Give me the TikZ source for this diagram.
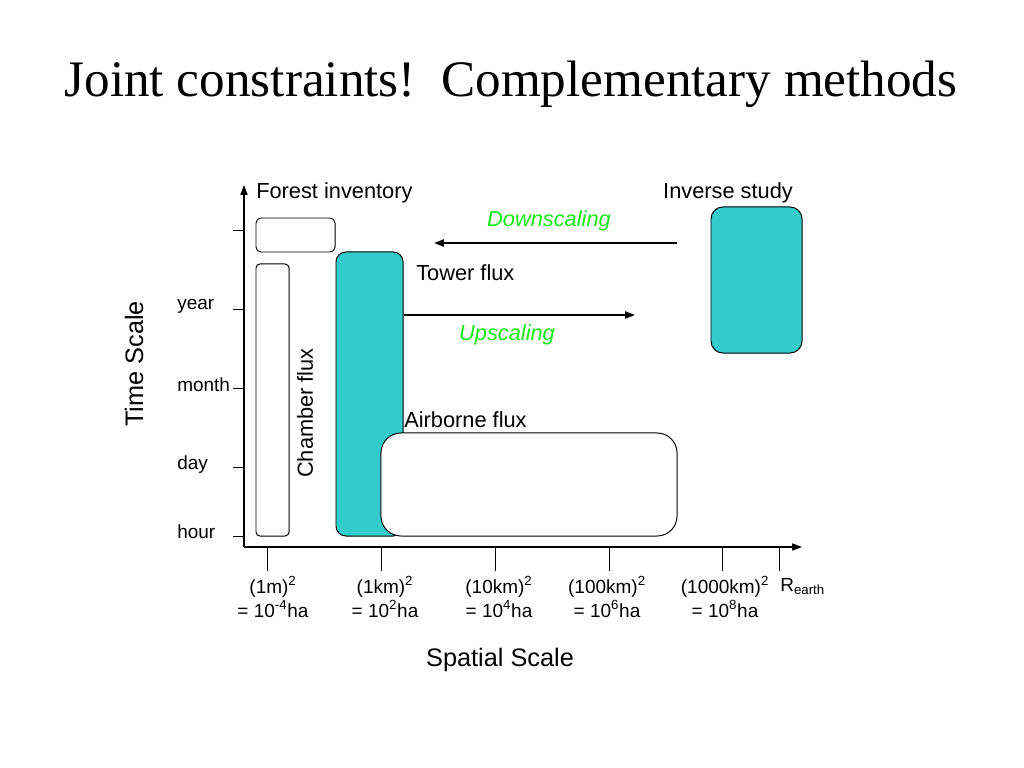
\documentclass[tikz,border=0pt]{standalone}
\usepackage{fontspec}
\setmainfont{Liberation Sans}
\newfontfamily\titlefont{Liberation Serif}
\usetikzlibrary{arrows.meta,positioning}
\definecolor{teal}{RGB}{51,204,204}
\definecolor{scalegreen}{RGB}{20,235,20}
\tikzset{
  box/.style={draw,line width=0.7pt,inner sep=0pt,fill=white},
  flow/.style={-{Triangle[length=7pt,width=5pt]},line width=1.3pt},
  lbl/.style={font=\fontsize{15.5}{18}\selectfont,inner sep=0pt},
  ticklbl/.style={font=\fontsize{13.5}{17}\selectfont,inner sep=0pt,align=center}
}
\begin{document}
\begin{tikzpicture}[x=0.025cm,y=-0.025cm]
  \useasboundingbox[fill=white] (0,0) rectangle (1024,768);
  \node[font=\titlefont\fontsize{36.4}{40}\selectfont] (title) at (511,84) {Joint constraints!\ \ Complementary methods};
  % axes
  \coordinate (o) at (244,547); \coordinate (ytop) at (244,185); \coordinate (xend) at (802,547);
  \draw[-{Triangle[length=7pt,width=5pt]},line width=0.9pt] (o) -- (ytop);
  \draw[-{Triangle[length=7pt,width=5pt]},line width=0.9pt] (o) -- (xend);
  \foreach \y in {230,309,388,467,536} \draw[line width=0.7pt] (233,\y) -- (244,\y);
  \foreach \x in {267,381,495,609,722,779} \draw[line width=0.7pt] (\x,547) -- (\x,571);
  \node[ticklbl,anchor=west] (year) at (177,306) {year};
  \node[ticklbl,anchor=west] (month) at (177,385) {month};
  \node[ticklbl,anchor=west] (day) at (177,465) {day};
  \node[ticklbl,anchor=west] (hour) at (177,532) {hour};
  \node[ticklbl] (s1) at (273,597) {(1m)\textsuperscript{2}\\= 10\textsuperscript{-4}ha};
  \node[ticklbl] (s2) at (385,597) {(1km)\textsuperscript{2}\\= 10\textsuperscript{2}ha};
  \node[ticklbl] (s3) at (499,597) {(10km)\textsuperscript{2}\\= 10\textsuperscript{4}ha};
  \node[ticklbl] (s4) at (607,597) {(100km)\textsuperscript{2}\\= 10\textsuperscript{6}ha};
  \node[ticklbl] (s5) at (725,597) {(1000km)\textsuperscript{2}\\= 10\textsuperscript{8}ha};
  \node[ticklbl,anchor=west] (rearth) at (780,587) {R\textsubscript{earth}};
  \node[font=\fontsize{18}{20}\selectfont] (xlab) at (500,660) {Spatial Scale};
  \node[font=\fontsize{18}{20}\selectfont,rotate=90] (ylab) at (134,364) {Time Scale};
  % methods
  \node[box,rounded corners=0.125cm,minimum width=1.975cm,minimum height=0.85cm] (forest) at (295.5,235) {};
  \node[box,rounded corners=0.1cm,minimum width=0.825cm,minimum height=6.8cm] (chamber) at (272.5,400) {};
  \node[box,fill=teal,rounded corners=0.25cm,minimum width=1.675cm,minimum height=7.1cm] (tower) at (369.5,394) {};
  \node[box,rounded corners=0.5cm,minimum width=7.4cm,minimum height=2.575cm] (airborne) at (529,484.5) {};
  \node[box,fill=teal,rounded corners=0.3cm,minimum width=2.275cm,minimum height=3.65cm] (inverse) at (756.5,280) {};
  \node[lbl,anchor=west] (forestlbl) at (256,193) {Forest inventory};
  \node[lbl] (inverselbl) at (728,193) {Inverse study};
  \node[lbl,anchor=west] (towerlbl) at (416,273) {Tower flux};
  \node[lbl,anchor=west] (airbornelbl) at (404,420) {Airborne flux};
  \node[lbl,rotate=90] (chamberlbl) at (305,413) {Chamber flux};
  % scaling arrows
  \coordinate (dsa) at (677,243); \coordinate (dsb) at (434,243); \coordinate (up) at (635,315);
  \draw[flow] (dsa) -- (dsb); \draw[flow] (tower.east |- up) -- (up);
  \node[lbl,font=\fontsize{15.5}{18}\selectfont\itshape,text=scalegreen] (downlbl) at (549,221) {Downscaling};
  \node[lbl,font=\fontsize{15.5}{18}\selectfont\itshape,text=scalegreen] (uplbl) at (507,335) {Upscaling};
\end{tikzpicture}
\end{document}
